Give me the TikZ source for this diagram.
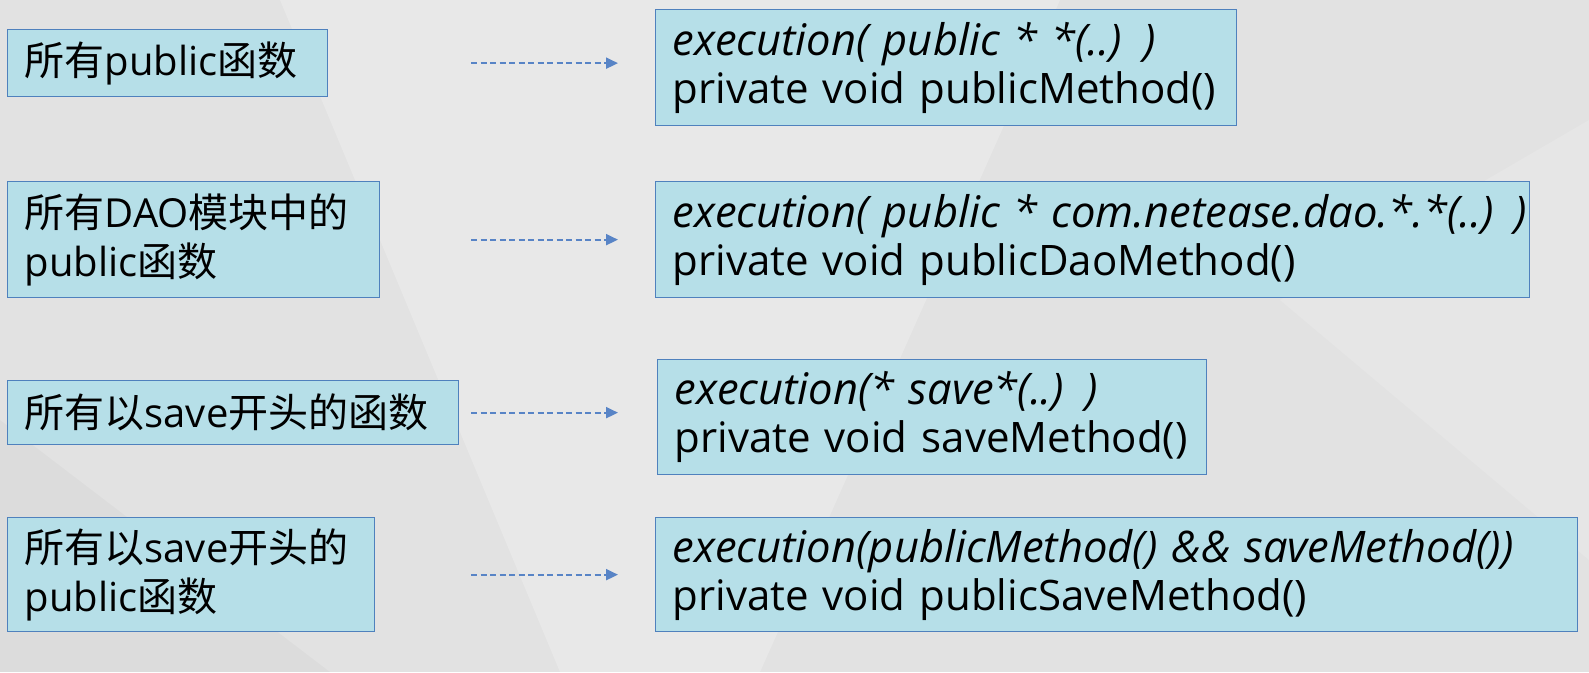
\documentclass[tikz,border=0pt]{standalone}
\usepackage{fontspec}
\setmainfont{Open Sans}
\newfontfamily\zhfont{Noto Sans CJK SC}
\newcommand{\zh}[1]{{\zhfont #1}}
\newcommand{\pc}[1]{\mbox{\fontsize{43.5}{48}\selectfont\itshape #1}}
\usetikzlibrary{arrows.meta}
\definecolor{bggray}{RGB}{226,226,226}
\definecolor{boxfill}{RGB}{182,223,232}
\definecolor{boxline}{RGB}{79,129,189}
\definecolor{arrline}{RGB}{88,132,198}

\begin{document}
\begin{tikzpicture}[x=1pt, y=-1pt,
    box/.style={draw=boxline, fill=boxfill, line width=1.3pt, anchor=north west,
        inner xsep=17pt, inner ysep=2pt, align=left},
    lbox/.style={box, font=\fontsize{40}{49}\selectfont},
    rbox/.style={box, font=\fontsize{42}{48}\selectfont},
    arr/.style={draw=arrline, line width=2pt, dash pattern=on 6pt off 3.5pt,
        -{Triangle[length=12pt,width=11pt]}}]
    % Background
    \fill[bggray] (0,0) rectangle (1589,672);
    \useasboundingbox (0,0) rectangle (1589,672);
    \fill[white, opacity=0.22] (280,0) -- (1060,0) -- (760,672) -- (560,672) -- cycle;
    \fill[white, opacity=0.15] (1589,120) -- (1589,560) -- (1280,300) -- cycle;
    \fill[black, opacity=0.025] (0,420) -- (330,672) -- (0,672) -- cycle;

    % Left boxes
    \node[lbox, text width=286pt, minimum height=67pt] (l1) at (7,29) {\zh{所有}public\zh{函数}};
    \node[lbox, text width=338pt, minimum height=116pt] (l2) at (7,181) {\zh{所有}DAO\zh{模块中的}\\public\zh{函数}};
    \node[lbox, text width=417pt, minimum height=64pt] (l3) at (7,380) {\zh{所有以}save\zh{开头的函数}};
    \node[lbox, text width=333pt, minimum height=114pt] (l4) at (7,517) {\zh{所有以}save\zh{开头的}\\public\zh{函数}};

    % Right boxes
    \node[rbox, text width=547pt, minimum height=116pt] (r1) at (655,9)
        {\pc{execution( public * *(..) )}\\private void publicMethod()};
    \node[rbox, text width=840pt, minimum height=116pt] (r2) at (655,181)
        {\pc{execution( public * com.netease.dao.*.*(..) )}\\private void publicDaoMethod()};
    \node[rbox, text width=515pt, minimum height=115pt] (r3) at (657,359)
        {\pc{execution(* save*(..) )}\\private void saveMethod()};
    \node[rbox, text width=888pt, minimum height=114pt] (r4) at (655,517)
        {\pc{execution(publicMethod() \&\& saveMethod())}\\private void publicSaveMethod()};

    % Arrows
    \coordinate (ax) at (471,0);
    \coordinate (bx) at (618,0);
    \foreach \i in {1,...,4}
        \draw[arr] (l\i.east -| ax) -- (l\i.east -| bx);
\end{tikzpicture}
\end{document}
